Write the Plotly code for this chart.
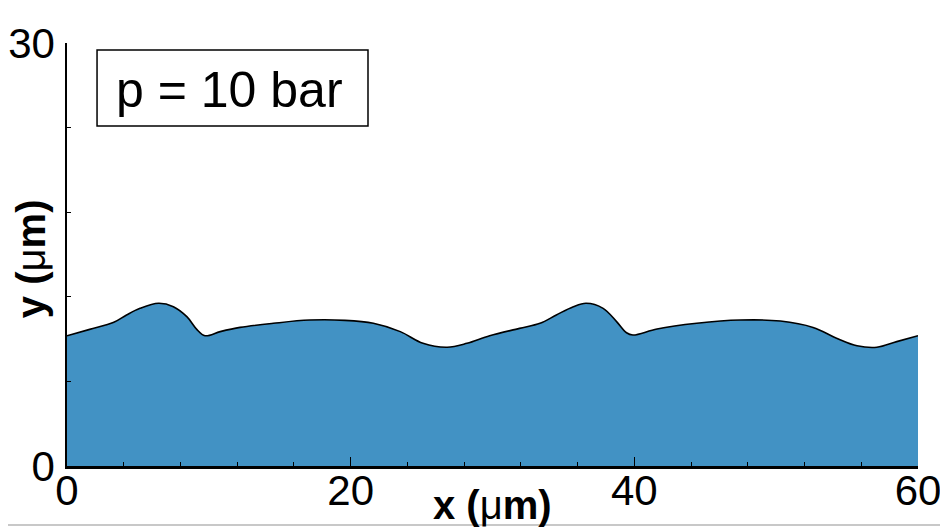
import plotly.graph_objects as go

# interface profile
x_um = [0.0, 1.6, 3.3, 4.2, 5.15, 6.45, 7.5, 8.45, 9.15, 9.73, 10.8, 12.2,
        14.55, 17.1, 19.6, 21.6, 23.5, 25.1, 26.8, 28.2, 29.8, 31.9, 33.35,
        34.5, 35.7, 36.6, 37.8, 38.75, 39.45, 39.9, 41.6, 44.4, 47.45, 50.3,
        52.6, 54.3, 55.7, 57.1, 58.5, 60.0]
y_um = [9.24, 9.69, 10.19, 10.71, 11.18, 11.54, 11.3, 10.59, 9.69, 9.24,
        9.53, 9.83, 10.12, 10.35, 10.33, 10.12, 9.53, 8.7, 8.42, 8.7, 9.24,
        9.76, 10.12, 10.71, 11.3, 11.54, 11.18, 10.24, 9.45, 9.29, 9.72,
        10.12, 10.35, 10.28, 9.83, 9.05, 8.53, 8.42, 8.82, 9.24]

x_ticks = [0, 20, 40, 60]
y_ticks = [0, 30]
label = "p = 10 bar"

FONT = "Liberation Sans, Arial, Helvetica, sans-serif"

fig = go.Figure()
fig.add_trace(
    go.Scatter(
        x=x_um,
        y=y_um,
        mode='lines',
        line=dict(color='black', width=1.6, shape='spline', smoothing=1.0),
        fill='tozeroy',
        fillcolor='#4292c4',
        hoverinfo='skip'
    )
)

fig.update_xaxes(
    range=[0, 60],
    tickvals=x_ticks,
    ticktext=[str(v) for v in x_ticks],
    ticks='inside',
    ticklen=9,
    tickwidth=1.2,
    tickcolor='black',
    minor=dict(ticks='inside', ticklen=4, tickwidth=1, tickcolor='black',
               dtick=4, tick0=0, showgrid=False),
    showline=True,
    linecolor='black',
    linewidth=2.5,
    showgrid=False,
    zeroline=False,
    automargin=False,
    ticklabelstandoff=-14,
    tickfont=dict(family=FONT, size=42, color='black')
)
fig.update_yaxes(
    range=[0, 30],
    tickvals=y_ticks,
    ticktext=[str(v) for v in y_ticks],
    ticks='inside',
    ticklen=9,
    tickwidth=1.2,
    tickcolor='black',
    minor=dict(ticks='inside', ticklen=4, tickwidth=1, tickcolor='black',
               dtick=6, tick0=0, showgrid=False),
    showline=True,
    linecolor='black',
    linewidth=1.5,
    showgrid=False,
    zeroline=False,
    automargin=False,
    ticklabelstandoff=2,
    tickfont=dict(family=FONT, size=42, color='black')
)

# legend-like label box
fig.add_shape(type='rect', xref='paper', yref='paper',
              x0=0.0353, x1=0.3537, y0=0.8038, y1=0.9835,
              line=dict(color='black', width=1.5), fillcolor='white')
fig.add_annotation(
    x=0.1904, y=0.888, xref='paper', yref='paper',
    text=label, showarrow=False,
    xanchor='center', yanchor='middle',
    font=dict(family=FONT, size=50, color='black')
)
fig.add_annotation(
    x=0.5, y=-0.092, xref='paper', yref='paper',
    text="<b>x (</b>μ<b>m)</b>", showarrow=False,
    xanchor='center', yanchor='middle',
    font=dict(family=FONT, size=40, color='black')
)
fig.add_annotation(
    x=-0.043, y=0.49, xref='paper', yref='paper',
    text="<b>y (</b>μ<b>m)</b>", showarrow=False, textangle=-90,
    xanchor='center', yanchor='middle',
    font=dict(family=FONT, size=40, color='black')
)

# light frame on the right and bottom edges of the picture
fig.add_shape(type='line', xref='paper', yref='paper',
              x0=1.0329, x1=1.0329, y0=-0.145, y1=1.11,
              line=dict(color='#c8c8c8', width=2))
fig.add_shape(type='line', xref='paper', yref='paper',
              x0=-0.08, x1=1.0329, y0=-0.1395, y1=-0.1395,
              line=dict(color='#c8c8c8', width=2))

# the page adds an 8px body margin, so the figure is 8px smaller each way
fig.update_layout(
    width=940,
    height=519,
    margin=dict(l=59, r=30, t=35, b=61),
    paper_bgcolor='white',
    plot_bgcolor='white',
    showlegend=False
)

fig.write_html("out.html")
